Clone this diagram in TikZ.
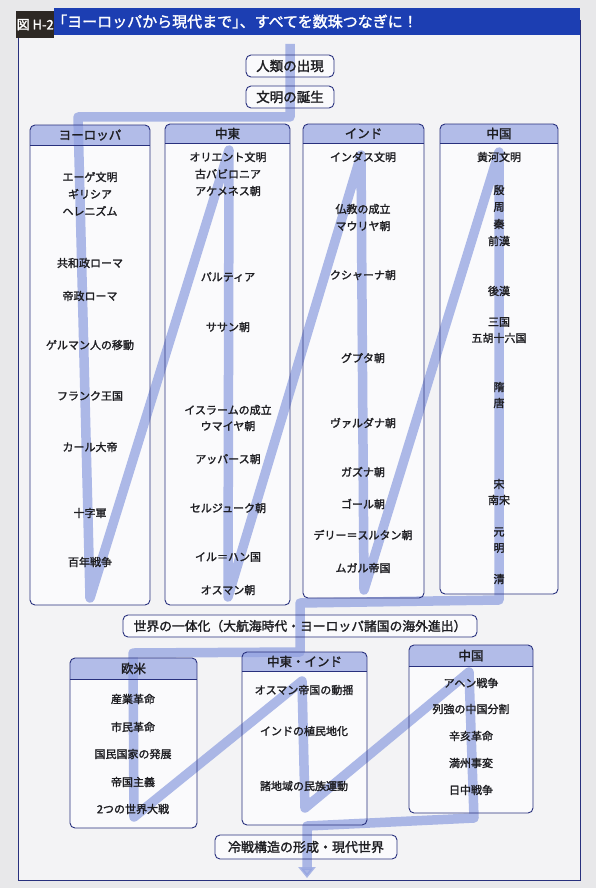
\documentclass[tikz,border=0pt]{standalone}
\usepackage{fontspec}
\setmainfont{Noto Sans CJK JP}
\newfontfamily\midfont{Noto Sans CJK JP}[FakeBold=1.8]
\usetikzlibrary{arrows.meta}
\pgfdeclarelayer{fills}
\pgfdeclarelayer{strip}
\pgfsetlayers{fills,strip,main}

\definecolor{navy}{RGB}{40,48,125}
\definecolor{hdr}{RGB}{178,188,232}
\definecolor{stripc}{RGB}{146,162,224}
\definecolor{titleblue}{RGB}{28,62,178}
\definecolor{titledark}{RGB}{45,40,36}
\definecolor{pagebg}{RGB}{232,232,234}
\definecolor{framebg}{RGB}{243,243,245}
\definecolor{boxbg}{RGB}{250,250,252}
\definecolor{ink}{RGB}{30,30,34}

\tikzset{
  boxline/.style={draw=navy, line width=0.9pt, rounded corners=5pt},
  hdrtext/.style={font=\midfont\fontsize{12.5}{12.5}\selectfont, text=ink, inner sep=0pt},
  item/.style={font=\midfont\fontsize{11}{11}\selectfont, text=ink, inner sep=0pt},
  tag/.style={draw=navy, line width=0.9pt, rounded corners=5pt, inner sep=0pt,
    text=ink, font=\midfont\fontsize{13.5}{13.5}\selectfont},
  stripline/.style={line width=9.5pt, draw=stripc, opacity=0.75, line join=round},
}

\newcommand\colbox[7]{%
  \begin{pgfonlayer}{fills}
    \fill[boxbg, rounded corners=5pt] (#2,#3) rectangle (#4,#5);
    \begin{scope}
      \clip[rounded corners=5pt] (#2,#3) rectangle (#4,#5);
      \fill[hdr] (#2,#3) rectangle (#4,#6);
    \end{scope}
  \end{pgfonlayer}
  \draw[boxline] (#2,#3) rectangle (#4,#5);
  \draw[navy, line width=0.9pt] (#2,#6) -- (#4,#6);
  \node[hdrtext] (#1) at ({(#2+#4)/2},{(#3+#6)/2}) {#7};
}

\newcommand\tagfill[1]{%
  \begin{pgfonlayer}{fills}
    \fill[boxbg, rounded corners=5pt] (#1.north west) rectangle (#1.south east);
  \end{pgfonlayer}}

\begin{document}
\begin{tikzpicture}[x=1pt,y=-1pt]
\useasboundingbox (0,0) rectangle (596,888);
\begin{pgfonlayer}{fills}
  \fill[pagebg] (0,0) rectangle (596,888);
  \fill[framebg] (18,20) rectangle (580,880);
\end{pgfonlayer}
% frame
\draw[navy, line width=0.8pt] (18,20) rectangle (580,880);
% title bar
\fill[titleblue] (54,8) rectangle (580,35);
\node[fill=titledark, text=white, minimum width=38pt, minimum height=27pt,
  inner sep=0pt, anchor=north west, font=\midfont\fontsize{13}{13}\selectfont] (fig) at (16,11) {図 H-2};
\node[anchor=west, text=white, inner sep=0pt, font=\midfont\fontsize{15}{15}\selectfont]
  (title) at (52,21.5) {「ヨーロッパから現代まで」\kern-0.5em、すべてを数珠つなぎに！};

% top tags
\node[tag, minimum width=88pt, minimum height=22pt] (t1) at (290,66) {人類の出現};
\tagfill{t1}
\node[tag, minimum width=88pt, minimum height=22pt] (t2) at (290,97) {文明の誕生};
\tagfill{t2}

% column boxes
\colbox{heu}{30}{125}{150}{605}{145}{ヨーロッパ}
\colbox{hme}{165}{124}{290}{605}{143}{中東}
\colbox{hin}{303}{124}{424}{598}{143}{インド}
\colbox{hcn}{440}{124}{558}{594}{143}{中国}

\foreach \t/\yy [count=\i] in {エーゲ文明/177, ギリシア/194, ヘレニズム/211, 共和政ローマ/263,
  帝政ローマ/296, ゲルマン人の移動/345, フランク王国/396, カール大帝/447, 十字軍/513, 百年戦争/562}
  \node[item] (eu\i) at (90,\yy) {\t};
\foreach \t/\yy [count=\i] in {オリエント文明/157, 古バビロニア/174, アケメネス朝/191, パルティア/277,
  ササン朝/327, イスラームの成立/410, ウマイヤ朝/426, アッバース朝/459, セルジューク朝/508,
  イル＝ハン国/557, オスマン朝/590}
  \node[item] (me\i) at (228,\yy) {\t};
\foreach \t/\yy [count=\i] in {インダス文明/157, 仏教の成立/209, マウリヤ朝/226, クシャーナ朝/275,
  グプタ朝/358, ヴァルダナ朝/423, ガズナ朝/472, ゴール朝/504, デリー＝スルタン朝/535, ムガル帝国/568}
  \node[item] (in\i) at (363,\yy) {\t};
\foreach \t/\yy [count=\i] in {黄河文明/157, 殷/190, 周/207, 秦/224, 前漢/241, 後漢/291, 三国/322,
  五胡十六国/338, 隋/387, 唐/403, 宋/484, 南宋/500, 元/532, 明/548, 清/579}
  \node[item] (cn\i) at (499,\yy) {\t};

% middle tag
\node[tag, minimum width=354pt, minimum height=22pt, font=\midfont\fontsize{12.8}{12.8}\selectfont]
  (t3) at (300,626) {世界の一体化（大航海時代・ヨーロッパ諸国の海外進出）};
\tagfill{t3}

% bottom boxes
\colbox{hou}{70}{658}{197}{828}{679}{欧米}
\colbox{hmi}{242}{652}{367}{825}{671}{中東・インド}
\colbox{hcm}{409}{645}{533}{813}{666}{中国}

\foreach \t/\yy [count=\i] in {産業革命/699, 市民革命/727, 国民国家の発展/754, 帝国主義/782, 2つの世界大戦/809}
  \node[item] (ou\i) at (133,\yy) {\t};
\foreach \t/\yy [count=\i] in {オスマン帝国の動揺/690, インドの植民地化/731, 諸地域の民族運動/786}
  \node[item] (mi\i) at (304,\yy) {\t};
\foreach \t/\yy [count=\i] in {アヘン戦争/683, 列強の中国分割/709, 辛亥革命/736, 満州事変/763, 日中戦争/790}
  \node[item] (cm\i) at (471,\yy) {\t};

% bottom tag
\node[tag, minimum width=182pt, minimum height=24pt, font=\midfont\fontsize{13}{13}\selectfont]
  (t4) at (306,847) {冷戦構造の形成・現代世界};
\tagfill{t4}

% strip coordinates
\coordinate (s0) at (290,44);
\coordinate (s1) at (290,117);
\coordinate (s2) at (78,117);
\coordinate (s3) at (90,598);
\coordinate (s4) at (229,150);
\coordinate (s5) at (228,597);
\coordinate (s6) at (361,155);
\coordinate (s7) at (364,590);
\coordinate (s8) at (499,152);
\coordinate (s9) at (499,600);
\coordinate (s10) at (300,603);
\coordinate (s11) at (300,652);
\coordinate (s12) at (133,653);
\coordinate (s13) at (134,817);
\coordinate (s14) at (302,681);
\coordinate (s15) at (305,808);
\coordinate (s16) at (469,672);
\coordinate (s17) at (474,818);
\coordinate (s18) at (307,826);
\coordinate (s19) at (307,878);
\begin{pgfonlayer}{strip}
\draw[stripline, -{Triangle[width=17pt,length=11pt]}]
  (s0) -- (s1) -- (s2) -- (s3) -- (s4) -- (s5) -- (s6) -- (s7) -- (s8) -- (s9)
  -- (s10) -- (s11) -- (s12) -- (s13) -- (s14) -- (s15) -- (s16) -- (s17) -- (s18) -- (s19);
\end{pgfonlayer}
\end{tikzpicture}
\end{document}
